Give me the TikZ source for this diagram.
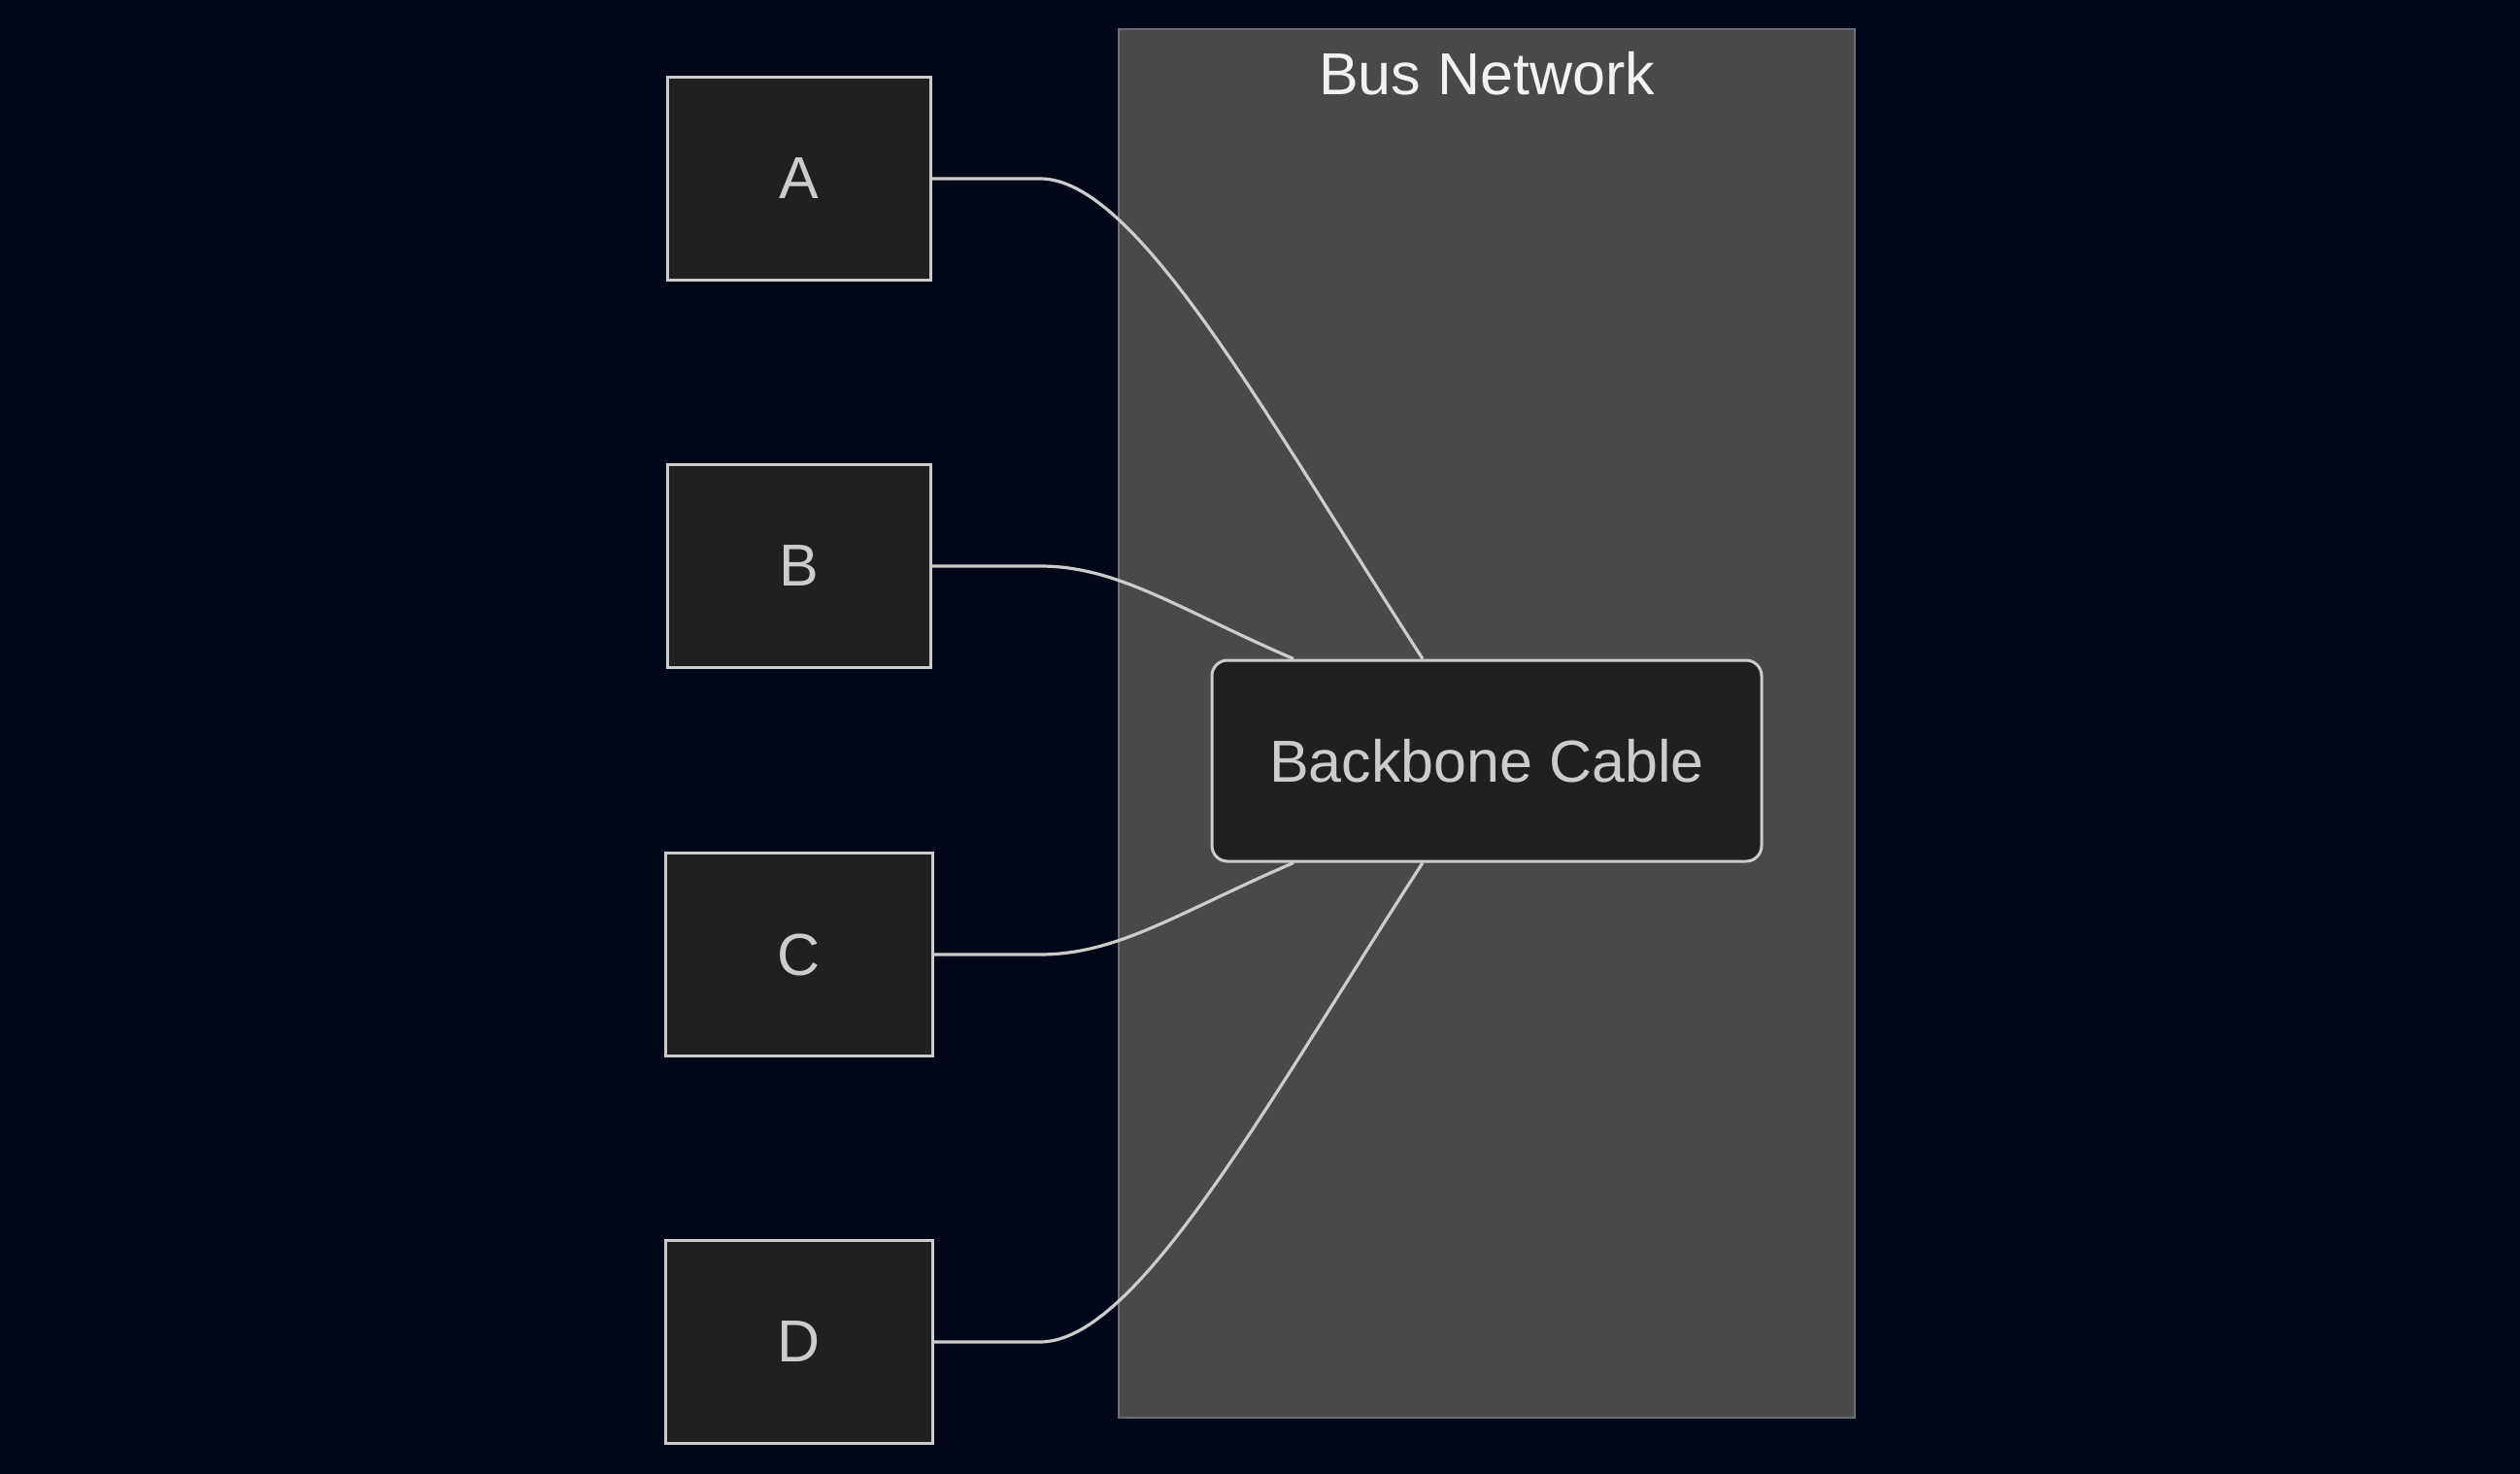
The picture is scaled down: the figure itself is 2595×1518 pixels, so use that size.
\documentclass[tikz,border=0pt]{standalone}
\usepackage{fontspec}
\setmainfont{Liberation Sans}
\definecolor{bgc}{HTML}{000817}
\definecolor{clfill}{HTML}{484948}
\definecolor{cldraw}{HTML}{6A6D73}
\definecolor{nfill}{HTML}{1F2020}
\definecolor{ndraw}{HTML}{CCCCCC}
\definecolor{ntext}{HTML}{CCCCCC}
\definecolor{ttext}{HTML}{F2F2F2}
\tikzset{
  nodebox/.style={draw=ndraw, fill=nfill, line width=1.5pt, text=ntext, font=\fontsize{30.5}{36}\selectfont, inner sep=0pt},
  clusterbox/.style={draw=cldraw, fill=clfill, line width=1.3pt, inner sep=0pt},
  edge/.style={draw=ndraw, line width=1.6pt}
}
\begin{document}
\begin{tikzpicture}[x=0.5pt,y=-0.5pt]
\fill[bgc] (0,0) rectangle (2595,1518);
\useasboundingbox (0,0) rectangle (2595,1518);
\node[clusterbox, minimum width=379pt, minimum height=715pt] (bus) at (1531,745) {};
\node[text=ttext, font=\fontsize{30.5}{36}\selectfont] (title) at (1531,76) {Bus Network};
\node[nodebox, minimum width=135.5pt, minimum height=104.5pt] (A) at (822.5,184) {A};
\node[nodebox, minimum width=135.5pt, minimum height=104.5pt] (B) at (822.5,583) {B};
\node[nodebox, minimum width=137.5pt, minimum height=104.5pt] (C) at (822.5,983) {C};
\node[nodebox, minimum width=137.5pt, minimum height=104.5pt] (D) at (822.5,1382) {D};
\node[nodebox, rounded corners=8pt, minimum width=283pt, minimum height=103.5pt] (bb) at (1531,783.5) {Backbone Cable};
\coordinate (ta) at ([xshift=-33pt]bb.north);
\coordinate (tb) at ([xshift=-99.5pt]bb.north);
\coordinate (tc) at ([xshift=-99.5pt]bb.south);
\coordinate (td) at ([xshift=-33pt]bb.south);
\coordinate (ha) at (1071,184);
\coordinate (hb) at (1071,583);
\coordinate (hc) at (1071,983);
\coordinate (hd) at (1071,1382);
\draw[edge] (A.east) -- (ha) .. controls (1171,184) and (1304,430) .. (ta);
\draw[edge] (B.east) -- (hb) .. controls (1151,583) and (1213,627) .. (tb);
\draw[edge] (C.east) -- (hc) .. controls (1151,983) and (1213,940) .. (tc);
\draw[edge] (D.east) -- (hd) .. controls (1171,1382) and (1304,1137) .. (td);
\end{tikzpicture}
\end{document}
